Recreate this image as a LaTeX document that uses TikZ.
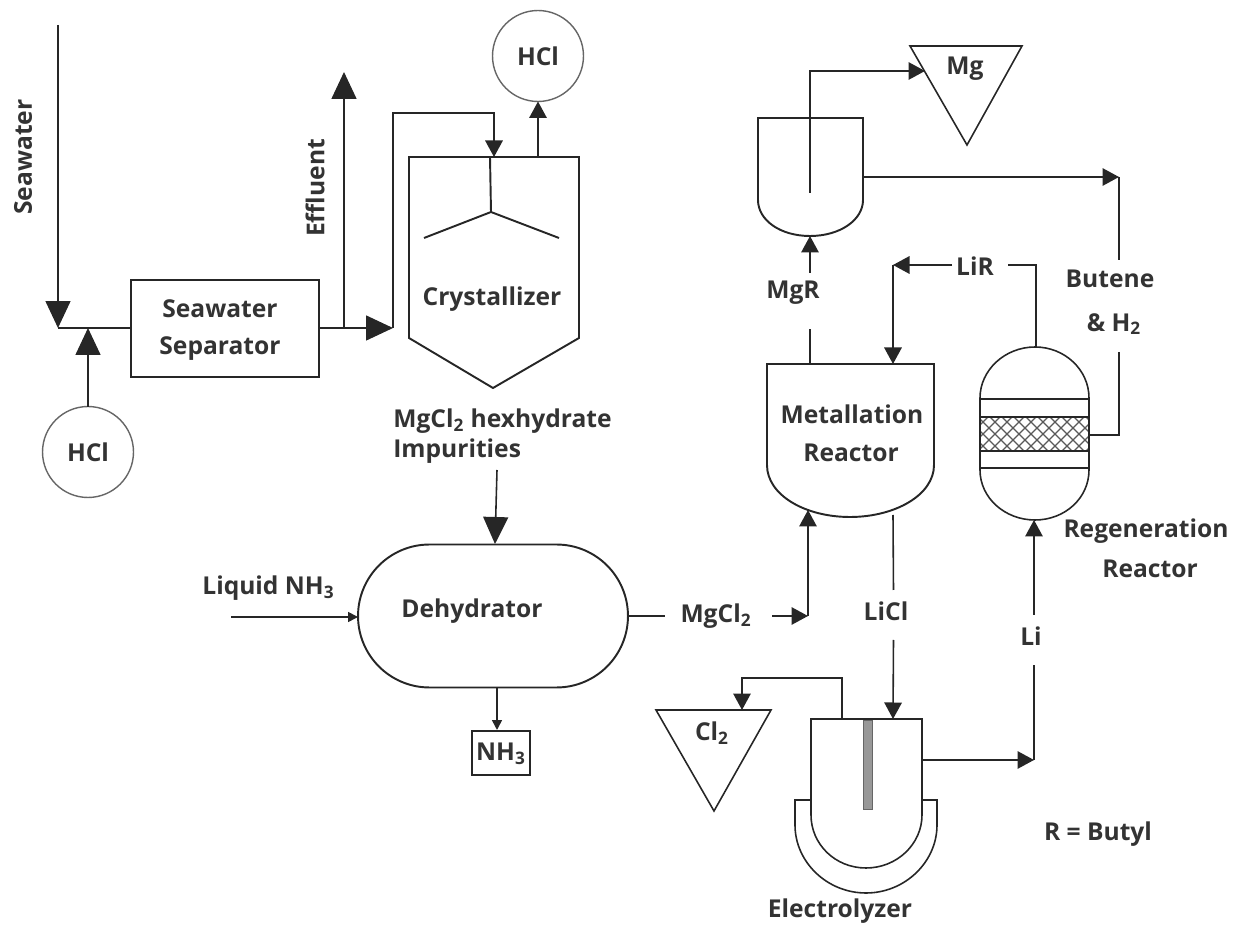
\documentclass[tikz,border=0pt]{standalone}
\usepackage{fontspec}
\setmainfont{Open Sans}
\usetikzlibrary{arrows.meta,shapes.misc}
\definecolor{inktext}{HTML}{333333}
\tikzset{
    lbl/.style={font=\fontsize{14}{17}\selectfont\bfseries, text=inktext, inner sep=0pt},
    pipe/.style={line width=0.9pt, black!85},
    wall/.style={line width=1.1pt, black!85},
    bigflow/.style={pipe, -{Triangle[length=.54cm,width=.5cm]}},
    flow/.style={pipe, -{Triangle[length=.33cm,width=.35cm]}},
    tinyflow/.style={pipe, -{Triangle[length=.2cm,width=.2cm]}},
    ball/.style={draw=black!60, line width=0.8pt, circle, minimum size=1.82cm, inner sep=0pt, outer sep=0pt},
}
\begin{document}
\begin{tikzpicture}[x=0.02cm, y=-0.02cm]
    \useasboundingbox (0,0) rectangle (1235,925);

    % seawater side
    \coordinate (seatop) at (58,25);
    \coordinate (seajoin) at (58,328);
    \coordinate (hcljoin) at (88,328);
    \node[draw, wall, minimum width=3.76cm, minimum height=1.94cm, outer sep=0pt] (sepbox) at (225,328.5) {};
    \node[lbl] (seplabela) at (220,309) {Seawater};
    \node[lbl] (seplabelb) at (220,349) {Separator};
    \node[ball, lbl] (hcllow) at (88,452) {HCl};
    \node[ball, lbl] (hclhigh) at (538,56) {HCl};
    \node[lbl, rotate=90] (sealabel) at (23,157) {Seawater};
    \node[lbl, rotate=90] (efflabel) at (315,188) {Effluent};
    \draw[bigflow] (seatop) -- (seajoin);
    \draw[pipe] (seajoin) -- (hcljoin) -- (sepbox.west |- hcljoin);
    \draw[bigflow] (hcllow.north) -- (hcljoin);

    % crystallizer
    \coordinate (efftee) at (344,328);
    \coordinate (efftop) at (344,72);
    \coordinate (crybend) at (393,328);
    \coordinate (crybendb) at (393,113);
    \coordinate (crybendc) at (494,113);
    \coordinate (cryin) at (494,157);
    \coordinate (cryout) at (538,157);
    \coordinate (stirtop) at (490,157);
    \coordinate (stirhub) at (491,212);
    \draw[wall] (409,157) -- (579,157) -- (579,338) -- (493,388) -- (409,338) -- cycle;
    \draw[wall] (stirtop) -- (stirhub);
    \draw[wall] (424,238) -- (stirhub) -- (559,238);
    \node[lbl] (crylabel) at (492,299) {Crystallizer};
    \draw[bigflow] (sepbox.east |- efftee) -- (crybend);
    \draw[bigflow] (efftee) -- (efftop);
    \draw[flow] (crybend) -- (crybendb) -- (crybendc) -- (cryin);
    \draw[flow] (cryout) -- (hclhigh.south);

    % dehydrator
    \node[lbl, anchor=west] (hexlabel) at (393,421) {MgCl\textsubscript{2} hexhydrate};
    \node[lbl, anchor=west] (implabel) at (393,451) {Impurities};
    \node[draw, wall, rounded rectangle, rounded rectangle arc length=180, minimum width=5.4cm, minimum height=2.86cm, inner xsep=0pt, outer sep=0pt, text width=2.5cm] (dehy) at (493,616) {};
    \node[lbl] (dehylabel) at (472,611) {Dehydrator};
    \node[lbl, anchor=west] (liqlabel) at (202,588) {Liquid NH\textsubscript{3}};
    \coordinate (hexout) at (497,470);
    \coordinate (dehyin) at (495,544);
    \coordinate (liqin) at (231,617);
    \coordinate (nhtop) at (497,688);
    \node[draw, pipe, minimum width=1.16cm, minimum height=.88cm, outer sep=0pt] (nhbox) at (501,753) {};
    \node[lbl] (nhlabel) at (501,754) {NH\textsubscript{3}};
    \draw[bigflow] (hexout) -- (dehyin);
    \draw[tinyflow] (liqin) -- (dehy.west |- liqin);
    \draw[tinyflow] (nhtop) -- (497,730);

    % metallation reactor
    \coordinate (metin) at (808,510);
    \coordinate (metlir) at (893,364);
    \coordinate (metup) at (810,364);
    \coordinate (metout) at (893,515);
    \draw[wall] (767,364) -- (934,364) -- (934,465) .. controls (934,495) and (895,517) .. (850,517)
        .. controls (805,517) and (767,495) .. (767,465) -- cycle;
    \node[lbl] (metlabela) at (852,414) {Metallation};
    \node[lbl] (metlabelb) at (851,453) {Reactor};
    \node[lbl] (mgcllabel) at (716,616) {MgCl\textsubscript{2}};
    \coordinate (mgclgapa) at (665,616);
    \coordinate (mgclgapb) at (772,616);
    \coordinate (mgclbend) at (808,616);
    \draw[pipe] (dehy.east |- mgclgapa) -- (mgclgapa);
    \draw[flow] (mgclgapb) -- (mgclbend);
    \draw[flow] (mgclbend) -- (metin);

    % MgR vessel and Mg
    \coordinate (mgrtop) at (810,118);
    \coordinate (mgrbot) at (810,236);
    \coordinate (mgrbend) at (810,71);
    \coordinate (mgin) at (925,71);
    \coordinate (mgrside) at (863,177);
    \coordinate (butbend) at (1119,177);
    \draw[wall] (758,118) -- (863,118) -- (863,200) .. controls (863,220) and (840,236) .. (810,236)
        .. controls (780,236) and (758,220) .. (758,200) -- cycle;
    \draw[wall] (mgrtop) -- (810,193);
    \draw[pipe] (910,46) -- (1022,46) -- (967,145) -- cycle;
    \node[lbl] (mglabel) at (965,69) {Mg};
    \node[lbl] (mgrlabel) at (793,293) {MgR};
    \coordinate (mgrgapa) at (810,329);
    \coordinate (mgrgapb) at (810,273);
    \draw[pipe] (metup) -- (mgrgapa);
    \draw[flow] (mgrgapb) -- (mgrbot);
    \draw[flow] (mgrtop) -- (mgrbend) -- (mgin);
    \draw[flow] (mgrside) -- (butbend);

    % regeneration reactor
    \coordinate (regtop) at (1036,348);
    \coordinate (regbot) at (1034,520);
    \coordinate (regside) at (1089,435);
    \begin{scope}
        \clip (980,417) rectangle (1089,451);
        \foreach \d in {930,942,...,1090} {
            \draw[gray!70!black, line width=0.7pt] (\d,417) -- (\d+34,451);
            \draw[gray!70!black, line width=0.7pt] (\d+34,417) -- (\d,451);
        }
    \end{scope}
    \draw[pipe] (980,398) .. controls (980,370) and (1005,347) .. (1035,347)
        .. controls (1065,347) and (1089,370) .. (1089,398) -- (1089,470)
        .. controls (1089,498) and (1065,520) .. (1035,520)
        .. controls (1005,520) and (980,498) .. (980,470) -- cycle;
    \draw[pipe] (980,399) -- (1089,399);
    \draw[pipe] (980,417) -- (1089,417);
    \draw[pipe] (980,451) -- (1089,451);
    \draw[pipe] (980,468) -- (1089,468);
    \node[lbl] (reglabela) at (1146,531) {Regeneration};
    \node[lbl] (reglabelb) at (1150,569) {Reactor};
    \node[lbl] (butlabel) at (1110,279) {Butene};
    \node[lbl] (hylabel) at (1114,324) {\& H\textsubscript{2}};
    \node[lbl] (lirlabel) at (975,266) {LiR};
    \coordinate (butgapa) at (1119,260);
    \coordinate (butgapb) at (1119,352);
    \coordinate (butbendb) at (1119,435);
    \coordinate (lirbenda) at (1036,265);
    \coordinate (lirgapa) at (1008,265);
    \coordinate (lirgapb) at (952,265);
    \coordinate (lirbendb) at (893,265);
    \draw[pipe] (butbend) -- (butgapa);
    \draw[pipe] (butgapb) -- (butbendb) -- (regside);
    \draw[pipe] (regtop) -- (lirbenda) -- (lirgapa);
    \draw[flow] (lirgapb) -- (lirbendb);
    \draw[flow] (lirbendb) -- (metlir);

    % electrolyzer
    \coordinate (cellin) at (893,719);
    \coordinate (cellup) at (842,719);
    \coordinate (cellbenda) at (842,678);
    \coordinate (cellbendb) at (742,678);
    \coordinate (clin) at (742,710);
    \coordinate (cellside) at (922,760);
    \coordinate (libend) at (1034,760);
    \draw[pipe] (811,800) -- (795,800) -- (795,825) .. controls (795,862) and (827,893) .. (866,893)
        .. controls (905,893) and (937,862) .. (937,825) -- (937,800) -- (922,800);
    \draw[pipe] (811,719) -- (922,719) -- (922,815) .. controls (922,844) and (897,868) .. (866,868)
        .. controls (835,868) and (811,844) .. (811,815) -- cycle;
    \draw[black!60, fill=gray!85!black!70, line width=0.5pt] (863,720) rectangle (872,809);
    \draw[pipe] (656,710) -- (771,710) -- (714,811) -- cycle;
    \node[lbl] (cllabel) at (712,733) {Cl\textsubscript{2}};
    \node[lbl] (licllabel) at (886,611) {LiCl};
    \node[lbl] (lilabel) at (1031,636) {Li};
    \node[lbl] (celllabel) at (840,911) {Electrolyzer};
    \node[lbl] (butyllabel) at (1098,834) {R = Butyl};
    \coordinate (liclgapa) at (893.5,590);
    \coordinate (liclgapb) at (893.5,640);
    \coordinate (ligapa) at (1034,665);
    \coordinate (ligapb) at (1034,615);
    \draw[pipe] (metout) -- (liclgapa);
    \draw[flow] (liclgapb) -- (cellin);
    \draw[flow] (cellup) -- (cellbenda) -- (cellbendb) -- (clin);
    \draw[flow] (cellside) -- (libend);
    \draw[pipe] (libend) -- (ligapa);
    \draw[flow] (ligapb) -- (regbot);
\end{tikzpicture}
\end{document}
